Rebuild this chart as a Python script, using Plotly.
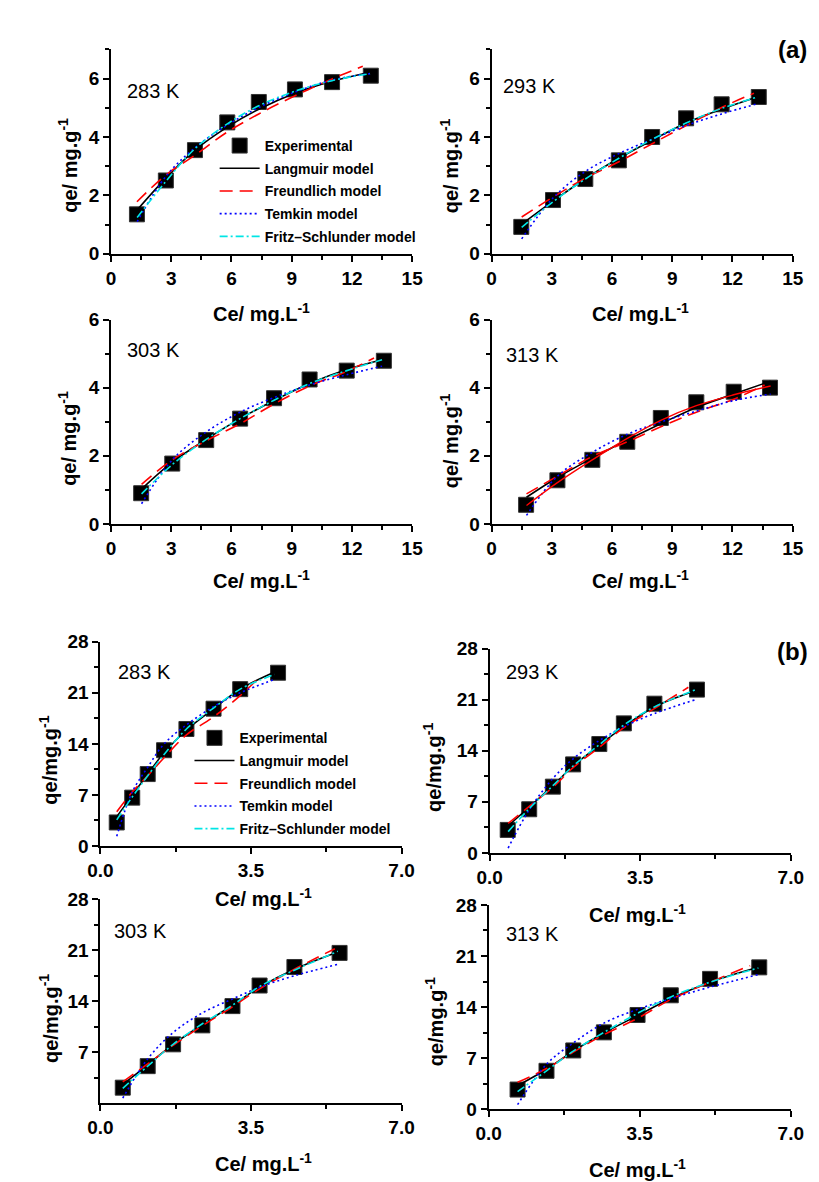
import plotly.graph_objects as go

W, H = 819, 1182

# ---------------- data ----------------
# (a) panels : Ce in mg/L, qe in mg/g
a283_ce = [1.29, 2.73, 4.18, 5.79, 7.36, 9.16, 11.01, 12.94]
a283_qe = [1.35, 2.51, 3.55, 4.50, 5.20, 5.63, 5.88, 6.10]
a283_fit_ce = [1.30, 2.73, 4.18, 5.79, 7.36, 9.16, 11.01, 12.90]
a283_lang = [1.50, 2.59, 3.55, 4.34, 4.95, 5.50, 5.91, 6.22]
a283_freu_ce = [1.29, 2.73, 4.18, 5.79, 7.36, 9.16, 11.01, 12.54]
a283_freu = [1.78, 2.70, 3.38, 4.17, 4.79, 5.41, 5.99, 6.42]
a283_temk = [1.10, 2.65, 3.63, 4.41, 5.01, 5.54, 5.95, 6.17]
a283_fritz = [1.24, 2.48, 3.60, 4.45, 5.07, 5.57, 5.93, 6.17]

a293_ce = [1.48, 3.06, 4.67, 6.34, 8.00, 9.69, 11.46, 13.31]
a293_qe = [0.92, 1.84, 2.56, 3.20, 4.00, 4.64, 5.12, 5.37]
a293_fit_ce = [1.50, 3.06, 4.67, 6.34, 8.00, 9.69, 11.46, 13.15]
a293_lang = [1.01, 1.80, 2.57, 3.27, 3.89, 4.48, 4.95, 5.35]
a293_freu_ce = [1.50, 3.06, 4.67, 6.34, 8.00, 9.69, 11.46, 13.07]
a293_freu = [1.26, 1.94, 2.59, 3.15, 3.77, 4.39, 5.01, 5.50]
a293_temk = [0.51, 1.91, 2.82, 3.43, 3.92, 4.39, 4.79, 5.12]
a293_fritz = [0.90, 1.78, 2.56, 3.27, 3.92, 4.48, 4.98, 5.35]

a303_ce = [1.50, 3.05, 4.74, 6.43, 8.12, 9.89, 11.74, 13.59]
a303_qe = [0.90, 1.77, 2.46, 3.09, 3.69, 4.24, 4.50, 4.79]
a303_fit_ce = [1.52, 3.05, 4.74, 6.43, 8.12, 9.89, 11.74, 13.50]
a303_lang = [1.02, 1.81, 2.48, 3.09, 3.62, 4.12, 4.53, 4.82]
a303_freu_ce = [1.52, 3.05, 4.74, 6.43, 8.12, 9.89, 11.74, 13.10]
a303_freu = [1.16, 1.88, 2.44, 2.94, 3.52, 4.05, 4.48, 4.87]
a303_temk = [0.59, 1.88, 2.70, 3.28, 3.71, 4.08, 4.38, 4.63]
a303_fritz = [0.88, 1.74, 2.48, 3.09, 3.63, 4.12, 4.50, 4.82]

a313_ce = [1.72, 3.28, 5.02, 6.76, 8.43, 10.20, 12.06, 13.87]
a313_qe = [0.56, 1.28, 1.88, 2.41, 3.11, 3.57, 3.88, 4.00]
a313_fit_ce = [1.74, 3.28, 5.02, 6.76, 8.43, 10.20, 12.06, 13.90]
a313_lang = [0.78, 1.36, 1.93, 2.46, 2.94, 3.42, 3.81, 4.19]
a313_freu_ce = [1.74, 3.28, 5.02, 6.76, 8.43, 10.20, 12.06, 13.60]
a313_freu = [0.88, 1.40, 1.98, 2.41, 2.85, 3.28, 3.66, 4.08]
a313_temk = [0.25, 1.40, 2.10, 2.63, 2.99, 3.31, 3.62, 3.81]
a313_fritz = [0.54, 1.21, 1.88, 2.51, 3.04, 3.47, 3.79, 4.05]

# (b) panels
b283_ce = [0.38, 0.74, 1.10, 1.48, 2.00, 2.63, 3.25, 4.13]
b283_qe = [3.23, 6.63, 9.86, 13.13, 16.04, 18.82, 21.50, 23.75]
b283_fit_ce = [0.38, 0.74, 1.10, 1.48, 2.00, 2.63, 3.25, 4.05]
b283_lang = [4.03, 6.94, 9.86, 12.77, 15.90, 18.82, 21.50, 23.84]
b283_freu_ce = [0.38, 0.74, 1.10, 1.48, 2.00, 2.63, 3.25, 3.74]
b283_freu = [4.70, 7.39, 9.63, 12.10, 15.23, 17.70, 20.60, 23.39]
b283_temk = [1.34, 7.40, 10.80, 14.00, 16.60, 19.10, 21.00, 22.85]
b283_fritz = [3.58, 6.72, 9.63, 12.54, 16.04, 18.91, 21.50, 23.52]

b293_ce = [0.42, 0.92, 1.47, 1.94, 2.55, 3.12, 3.83, 4.82]
b293_qe = [3.15, 5.98, 9.08, 12.13, 14.92, 17.75, 20.45, 22.38]
b293_fit_ce = [0.43, 0.92, 1.47, 1.94, 2.55, 3.12, 3.83, 4.80]
b293_lang = [3.69, 6.29, 9.21, 11.91, 14.74, 17.30, 20.00, 22.25]
b293_freu_ce = [0.43, 0.92, 1.47, 1.94, 2.55, 3.12, 3.83, 4.62]
b293_freu = [4.04, 6.38, 8.99, 11.69, 14.47, 17.17, 19.78, 22.70]
b293_temk = [0.67, 5.90, 10.20, 12.90, 15.40, 17.30, 19.10, 21.03]
b293_fritz = [2.92, 6.07, 9.21, 11.91, 14.83, 17.53, 20.00, 22.38]

b303_ce = [0.52, 1.10, 1.69, 2.37, 3.07, 3.70, 4.51, 5.56]
b303_qe = [2.15, 5.10, 8.09, 10.69, 13.33, 16.15, 18.69, 20.62]
b303_fit_ce = [0.52, 1.10, 1.69, 2.37, 3.07, 3.70, 4.51, 5.52]
b303_lang = [2.59, 5.28, 8.09, 10.78, 13.46, 15.92, 18.38, 20.75]
b303_freu_ce = [0.52, 1.10, 1.69, 2.37, 3.07, 3.70, 4.51, 5.45]
b303_freu = [2.95, 5.41, 7.96, 10.64, 13.24, 15.70, 18.38, 21.20]
b303_temk = [0.72, 6.10, 9.70, 12.40, 14.30, 15.92, 17.49, 19.05]
b303_fritz = [2.06, 5.10, 8.09, 10.91, 13.46, 16.01, 18.25, 20.84]

b313_ce = [0.67, 1.34, 1.96, 2.67, 3.45, 4.22, 5.13, 6.27]
b313_qe = [2.70, 5.27, 8.06, 10.54, 12.92, 15.62, 17.87, 19.45]
b313_fit_ce = [0.67, 1.34, 1.96, 2.67, 3.45, 4.22, 5.13, 6.25]
b313_lang = [3.24, 5.49, 7.97, 10.45, 12.83, 15.17, 17.42, 19.45]
b313_freu_ce = [0.67, 1.34, 1.96, 2.67, 3.45, 4.22, 5.13, 6.06]
b313_freu = [3.69, 5.58, 7.83, 10.22, 12.47, 15.04, 17.42, 19.68]
b313_temk = [0.63, 6.17, 9.09, 11.80, 13.69, 15.17, 16.75, 18.46]
b313_fritz = [2.43, 5.27, 7.97, 10.54, 13.15, 15.40, 17.42, 19.36]

temperatures = ["283 K", "293 K", "303 K", "313 K"]
series_names = ["Experimental", "Langmuir model", "Freundlich model",
                "Temkin model", "Fritz\u2013Schlunder model"]

a_xticks = [0, 3, 6, 9, 12, 15]
a_yticks = [0, 2, 4, 6]
b_xticks = [0, 3.5, 7]
b_xticktext = ["0.0", "3.5", "7.0"]
b_yticks = [0, 7, 14, 21, 28]

# ---------------- layout geometry (pixels) ----------------
FONT = "Arial, 'Liberation Sans', sans-serif"

panels = [
    dict(d=(a283_ce, a283_qe, a283_fit_ce, a283_lang, a283_freu_ce, a283_freu, a283_temk, a283_fritz),
         box=(93, 404, 240, 32), xr=15, yr=7, set="a", t=temperatures[0], tp=(137, 74),
         yt=(48, 150), xt=(248, 300), ymin=[1, 3, 5, 7]),
    dict(d=(a293_ce, a293_qe, a293_fit_ce, a293_lang, a293_freu_ce, a293_freu, a293_temk, a293_fritz),
         box=(486, 797, 240, 32), xr=15, yr=7, set="a", t=temperatures[1], tp=(525, 69),
         yt=(442, 150), xt=(640, 300), ymin=[1, 3, 5, 7]),
    dict(d=(a303_ce, a303_qe, a303_fit_ce, a303_lang, a303_freu_ce, a303_freu, a303_temk, a303_fritz),
         box=(93, 404, 515, 307), xr=15, yr=6, set="a", t=temperatures[2], tp=(137, 338),
         yt=(48, 428), xt=(248, 572), ymin=[1, 3, 5]),
    dict(d=(a313_ce, a313_qe, a313_fit_ce, a313_lang, a313_freu_ce, a313_freu, a313_temk, a313_fritz),
         box=(486, 797, 515, 307), xr=15, yr=6, set="a", t=temperatures[3], tp=(528, 343),
         yt=(442, 430), xt=(640, 572), ymin=[1, 3, 5], fritz_color="#FF0000"),
    dict(d=(b283_ce, b283_qe, b283_fit_ce, b283_lang, b283_freu_ce, b283_freu, b283_temk, b283_fritz),
         box=(82, 393, 843, 635), xr=7, yr=28, set="b", t=temperatures[0], tp=(128, 666),
         yt=(28, 756), xt=(250, 895)),
    dict(d=(b293_ce, b293_qe, b293_fit_ce, b293_lang, b293_freu_ce, b293_freu, b293_temk, b293_fritz),
         box=(484, 795, 850, 642), xr=7, yr=28, set="b", t=temperatures[1], tp=(528, 666),
         yt=(425, 763), xt=(637, 912)),
    dict(d=(b303_ce, b303_qe, b303_fit_ce, b303_lang, b303_freu_ce, b303_freu, b303_temk, b303_fritz),
         box=(82, 393, 1105, 897), xr=7, yr=28, set="b", t=temperatures[2], tp=(123, 930),
         yt=(29, 1019), xt=(250, 1165), no_zero=True),
    dict(d=(b313_ce, b313_qe, b313_fit_ce, b313_lang, b313_freu_ce, b313_freu, b313_temk, b313_fritz),
         box=(483, 795, 1111, 903), xr=7, yr=28, set="b", t=temperatures[3], tp=(528, 933),
         yt=(427, 1022), xt=(637, 1171)),
]


def fx(p):
    return p / W


def fy(p):
    return 1 - p / H


fig = go.Figure()
layout = dict(
    width=W, height=H, margin=dict(l=0, r=0, t=0, b=0),
    paper_bgcolor="white", plot_bgcolor="white",
    font=dict(family=FONT, color="black"),
    annotations=[],
)

tickfont = dict(family=FONT, size=19, color="black", weight="bold")

for i, p in enumerate(panels, start=1):
    ce, qe, fit_ce, lang, freu_ce, freu, temk, fritz = p["d"]
    xa = "x" if i == 1 else f"x{i}"
    ya = "y" if i == 1 else f"y{i}"
    if i == 1:
        leg = "legend"
    elif i == 5:
        leg = "legend2"
    else:
        leg = None
    show = leg is not None
    common = dict(xaxis=xa, yaxis=ya, showlegend=show, cliponaxis=False)
    if leg:
        common["legend"] = leg

    fig.add_trace(go.Scatter(x=ce, y=qe, mode="markers", name=series_names[0],
                             marker=dict(symbol="square", size=15, color="black",
                                         line=dict(color="#333333", width=1)),
                             legendgroup=f"g0_{i}", **common))
    fig.add_trace(go.Scatter(x=fit_ce, y=lang, mode="lines", name=series_names[1],
                             line=dict(color="black", width=1.6, shape="spline"),
                             legendgroup=f"g1_{i}", **common))
    fig.add_trace(go.Scatter(x=freu_ce, y=freu, mode="lines", name=series_names[2],
                             line=dict(color="#FF0000", width=1.6, shape="spline", dash="13px,7px"),
                             legendgroup=f"g2_{i}", **common))
    fig.add_trace(go.Scatter(x=fit_ce, y=temk, mode="lines", name=series_names[3],
                             line=dict(color="#0000FF", width=1.6, shape="spline", dash="2px,3px"),
                             legendgroup=f"g3_{i}", **common))
    fc = p.get("fritz_color", "#00E5E5")
    fdash = "solid" if "fritz_color" in p else "8px,3px,2px,3px"
    fig.add_trace(go.Scatter(x=fit_ce, y=fritz, mode="lines", name=series_names[4],
                             line=dict(color=fc, width=1.4 if fdash == "solid" else 1.6,
                                       shape="spline", dash=fdash),
                             legendgroup=f"g4_{i}", **common))

    left, right, bottom, top = p["box"]
    xkey = "xaxis" if i == 1 else f"xaxis{i}"
    ykey = "yaxis" if i == 1 else f"yaxis{i}"
    if p["set"] == "a":
        xt = dict(tickvals=a_xticks, minor=dict(tickvals=[1.5, 4.5, 7.5, 10.5, 13.5],
                                                  ticks="outside", ticklen=4, tickwidth=2,
                                                  tickcolor="black"))
        ytv = a_yticks
        ymin = p["ymin"]
        ytxt = [str(v) for v in ytv]
        ytitle = "<b>qe/ mg.g<sup>-1</sup></b>"
    else:
        xt = dict(tickvals=b_xticks, ticktext=b_xticktext,
                  minor=dict(tickvals=[1.75, 5.25], ticks="outside", ticklen=4,
                             tickwidth=2, tickcolor="black"))
        ytv = b_yticks[1:] if p.get("no_zero") else b_yticks
        ytxt = [str(v) for v in ytv]
        ymin = [3.5, 10.5, 17.5, 24.5]
        ytitle = "<b>qe/mg.g<sup>-1</sup></b>"

    layout[xkey] = dict(domain=[fx(left), fx(right)], range=[0, p["xr"]], anchor=ya,
                        showline=True, linewidth=2, linecolor="black", ticks="outside",
                        ticklen=6, tickwidth=2, tickcolor="black", showgrid=False,
                        zeroline=False, tickfont=tickfont, tickmode="array", **xt)
    layout[ykey] = dict(domain=[fy(bottom), fy(top)], range=[0, p["yr"]], anchor=xa,
                        showline=True, linewidth=2, linecolor="black", ticks="outside",
                        ticklen=6, tickwidth=2, tickcolor="black", showgrid=False,
                        zeroline=False, tickfont=tickfont, tickmode="array",
                        tickvals=ytv, ticktext=ytxt,
                        minor=dict(tickvals=ymin, ticks="outside", ticklen=4, tickwidth=2,
                                   tickcolor="black"))

    layout["annotations"].append(dict(
        text=p["t"], x=fx(p["tp"][0]), y=fy(p["tp"][1]), xref="paper", yref="paper",
        showarrow=False, xanchor="center", yanchor="middle",
        font=dict(family=FONT, size=20, color="black")))
    layout["annotations"].append(dict(
        text=ytitle, x=fx(p["yt"][0]), y=fy(p["yt"][1]), xref="paper", yref="paper",
        showarrow=False, xanchor="center", yanchor="middle", textangle=-90,
        font=dict(family=FONT, size=20, color="black")))
    layout["annotations"].append(dict(
        text="<b>Ce/ mg.L<sup>-1</sup></b>", x=fx(p["xt"][0]), y=fy(p["xt"][1]),
        xref="paper", yref="paper", showarrow=False, xanchor="center", yanchor="middle",
        font=dict(family=FONT, size=20, color="black")))

for lab, (lx, ly) in (("(a)", (797, 32)), ("(b)", (797, 645))):
    layout["annotations"].append(dict(
        text=f"<b>{lab}</b>", x=fx(lx), y=fy(ly), xref="paper", yref="paper",
        showarrow=False, xanchor="center", yanchor="middle",
        font=dict(family=FONT, size=24, color="black")))

legfont = dict(family=FONT, size=14, color="black", weight="bold")
layout["legend"] = dict(x=fx(200), y=fy(114), xanchor="left", yanchor="top",
                        bgcolor="rgba(0,0,0,0)", borderwidth=0, font=legfont,
                        itemwidth=40, tracegroupgap=1.5, traceorder="grouped")
layout["legend2"] = dict(x=fx(174), y=fy(717), xanchor="left", yanchor="top",
                         bgcolor="rgba(0,0,0,0)", borderwidth=0, font=legfont,
                         itemwidth=40, tracegroupgap=1.5, traceorder="grouped")

fig.update_layout(**layout)
fig.write_html("out.html")
